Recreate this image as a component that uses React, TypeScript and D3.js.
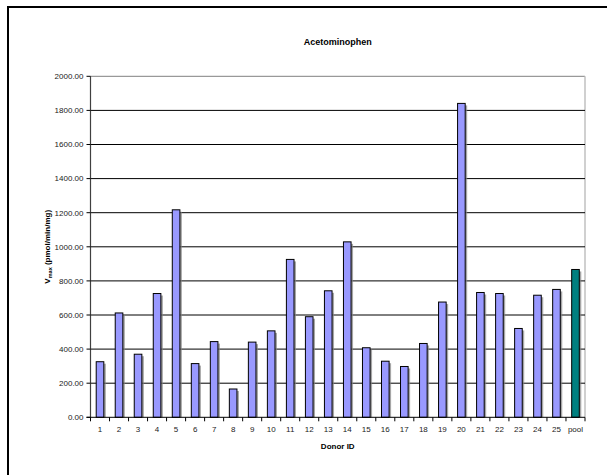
import React from "react";
import * as d3 from "d3";

const categories = ["1","2","3","4","5","6","7","8","9","10","11","12","13","14","15","16","17","18","19","20","21","22","23","24","25","pool"];
const values = [326, 612, 370, 726, 1217, 315, 444, 166, 441, 507, 926, 590, 742, 1029, 408, 329, 298, 433, 676, 1841, 732, 726, 521, 716, 750, 867];
const yTicks = [0, 200, 400, 600, 800, 1000, 1200, 1400, 1600, 1800, 2000];
const title = "Acetominophen";
const xTitle = "Donor ID";

export default function App() {
  const W = 607, H = 475;
  const left = 90.5, right = 585, top = 76.3, bottom = 417.3;
  const x = d3.scaleBand<string>().domain(categories).range([left, right]).paddingInner(0.6).paddingOuter(0.3);
  const band = d3.scaleBand<string>().domain(categories).range([left, right]);
  const y = d3.scaleLinear().domain([0, 2000]).range([bottom, top]);
  const font = "'Liberation Sans', Arial, sans-serif";
  const fmt = d3.format(".2f");
  return (
    <svg width={W} height={H} style={{ position: "absolute", left: 0, top: 0, background: "#fff" }} fontFamily={font}>
      <rect x={8} y={7} width={640} height={500} fill="#fff" stroke="#000" strokeWidth={2} />
      <text x={(left + right) / 2} y={45} textAnchor="middle" fontSize={9} fontWeight="bold">{title}</text>
      {/* plot area border */}
      <line x1={left} x2={right} y1={top} y2={top} stroke="#808080" strokeWidth={1} />
      <line x1={right} x2={right} y1={top} y2={bottom} stroke="#c0c0c0" strokeWidth={1.5} />
      {yTicks.filter(t => t > 0 && t < 2000).map(t => (
        <line key={t} x1={left} x2={right} y1={y(t)} y2={y(t)} stroke="#000" strokeWidth={1} />
      ))}
      {/* bars */}
      {categories.map((c, i) => {
        const bx = x(c)!;
        const bw = x.bandwidth();
        const by = y(values[i]);
        const fill = c === "pool" ? "#008080" : "#9999ff";
        return (
          <g key={c}>
            <rect x={bx + 2} y={by + 2} width={bw} height={bottom - by - 2} fill="#808080" opacity={0.7} />
            <rect x={bx} y={by} width={bw} height={bottom - by} fill={fill} stroke="#000" strokeWidth={1} />
          </g>
        );
      })}
      {/* axes */}
      <line x1={left} x2={left} y1={top} y2={bottom} stroke="#404040" strokeWidth={1.2} />
      <line x1={left - 4} x2={right} y1={bottom} y2={bottom} stroke="#000" strokeWidth={1} />
      {yTicks.map(t => (
        <g key={t}>
          <line x1={left - 4} x2={left} y1={y(t)} y2={y(t)} stroke="#000" strokeWidth={1} />
          <text x={left - 7} y={y(t)} dy="0.35em" textAnchor="end" fontSize={8} fill="#222">{fmt(t)}</text>
        </g>
      ))}
      {categories.map((c, i) => (
        <line key={"t" + c} x1={band(c)! + (i === 0 ? 0 : 0)} x2={band(c)!} y1={bottom} y2={bottom + 4} stroke="#000" strokeWidth={1} />
      ))}
      <line x1={right} x2={right} y1={bottom} y2={bottom + 4} stroke="#000" strokeWidth={1} />
      {categories.map(c => (
        <text key={"l" + c} x={band(c)! + band.bandwidth() / 2} y={432} textAnchor="middle" fontSize={8} fill="#222">{c}</text>
      ))}
      <text x={(left + right) / 2} y={449} textAnchor="middle" fontSize={8} fontWeight="bold">{xTitle}</text>
      <text transform={`translate(50, ${(top + bottom) / 2}) rotate(-90)`} textAnchor="middle" fontSize={8} fontWeight="bold">
        V<tspan fontSize={5.5} dy={2}>max</tspan><tspan dy={-2}> (pmol/min/mg)</tspan>
      </text>
    </svg>
  );
}
